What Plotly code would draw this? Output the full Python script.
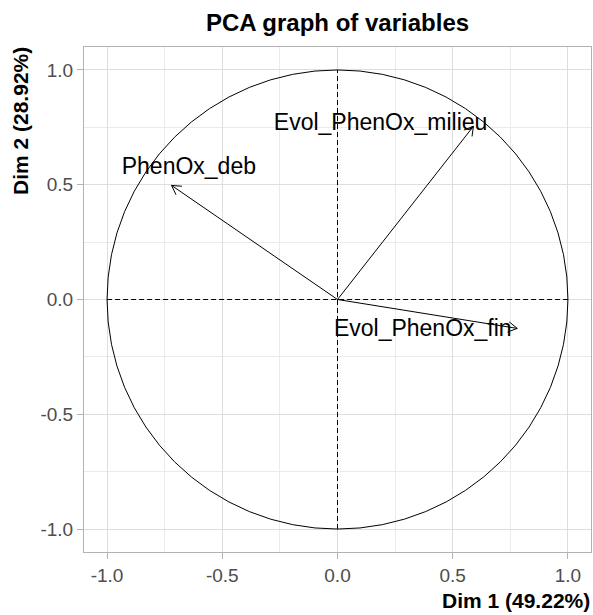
import numpy as np
import plotly.graph_objects as go

variables = ["PhenOx_deb", "Evol_PhenOx_milieu", "Evol_PhenOx_fin"]
dim1 = [-0.72, 0.59, 0.78]
dim2 = [0.497, 0.755, -0.126]
label_x = [-0.645, 0.187, 0.37]
label_y = [0.571, 0.762, -0.135]
tick_vals = [-1.0, -0.5, 0.0, 0.5, 1.0]
tick_text = ["-1.0", "-0.5", "0.0", "0.5", "1.0"]
minor_vals = [-0.75, -0.25, 0.25, 0.75]

FONT = "Liberation Sans, Arial, sans-serif"
fig = go.Figure()

# arrows (shaft + open head)
head_len = 0.045
ang = np.deg2rad(30)
for x, y in zip(dim1, dim2):
    fig.add_trace(go.Scatter(x=[0, x], y=[0, y], mode="lines",
                             line=dict(color="black", width=1), hoverinfo="skip", showlegend=False))
    th = np.arctan2(y, x)
    hx = [x - head_len * np.cos(th - ang), x, x - head_len * np.cos(th + ang)]
    hy = [y - head_len * np.sin(th - ang), y, y - head_len * np.sin(th + ang)]
    fig.add_trace(go.Scatter(x=hx, y=hy, mode="lines",
                             line=dict(color="black", width=1), hoverinfo="skip", showlegend=False))

fig.add_trace(go.Scatter(x=label_x, y=label_y, mode="text", text=variables,
                         textfont=dict(family=FONT, size=23, color="black"),
                         textposition="middle center", hoverinfo="skip", showlegend=False))

# circle and dashed axes
fig.add_shape(type="circle", x0=-1, y0=-1, x1=1, y1=1, line=dict(color="black", width=1), layer="between")
fig.add_shape(type="line", x0=-1, y0=0, x1=1, y1=0, line=dict(color="black", width=1, dash="5px,3px"), layer="between")
fig.add_shape(type="line", x0=0, y0=-1, x1=0, y1=1, line=dict(color="black", width=1, dash="5px,3px"), layer="between")

axis_common = dict(range=[-1.1, 1.1], tickvals=tick_vals, ticktext=tick_text,
                   showgrid=True, gridcolor="#DEDEDE", gridwidth=1,
                   zeroline=False, showline=True, linecolor="#B3B3B3", linewidth=1, mirror=True,
                   ticks="outside", ticklen=6, tickcolor="#B3B3B3",
                   tickfont=dict(family=FONT, size=19, color="#4D4D4D"),
                   minor=dict(tickvals=minor_vals, showgrid=True, gridcolor="#EBEBEB", ticks=""))

fig.update_layout(
    width=593, height=615,
    margin=dict(l=84, r=2, t=47, b=63),
    plot_bgcolor="white", paper_bgcolor="white",
    xaxis=dict(**axis_common),
    yaxis=dict(**axis_common),
    title=dict(text="<b>PCA graph of variables</b>", x=337.5 / 593, xanchor="center",
               y=1 - 23 / 615, yanchor="middle", font=dict(family=FONT, size=24, color="black")),
    annotations=[
        dict(text="<b>Dim 1 (49.22%)</b>", xref="paper", yref="paper", x=1, y=0,
             xanchor="right", yanchor="middle", yshift=-48, xshift=1, showarrow=False,
             font=dict(family=FONT, size=21, color="black")),
        dict(text="<b>Dim 2 (28.92%)</b>", xref="paper", yref="paper", x=0, y=1,
             xanchor="center", yanchor="top", xshift=-64, yshift=2, textangle=-90, showarrow=False,
             font=dict(family=FONT, size=21, color="black")),
    ],
)

fig.write_html("out.html", config={"displayModeBar": False},
               post_script="document.body.style.margin='0';")
